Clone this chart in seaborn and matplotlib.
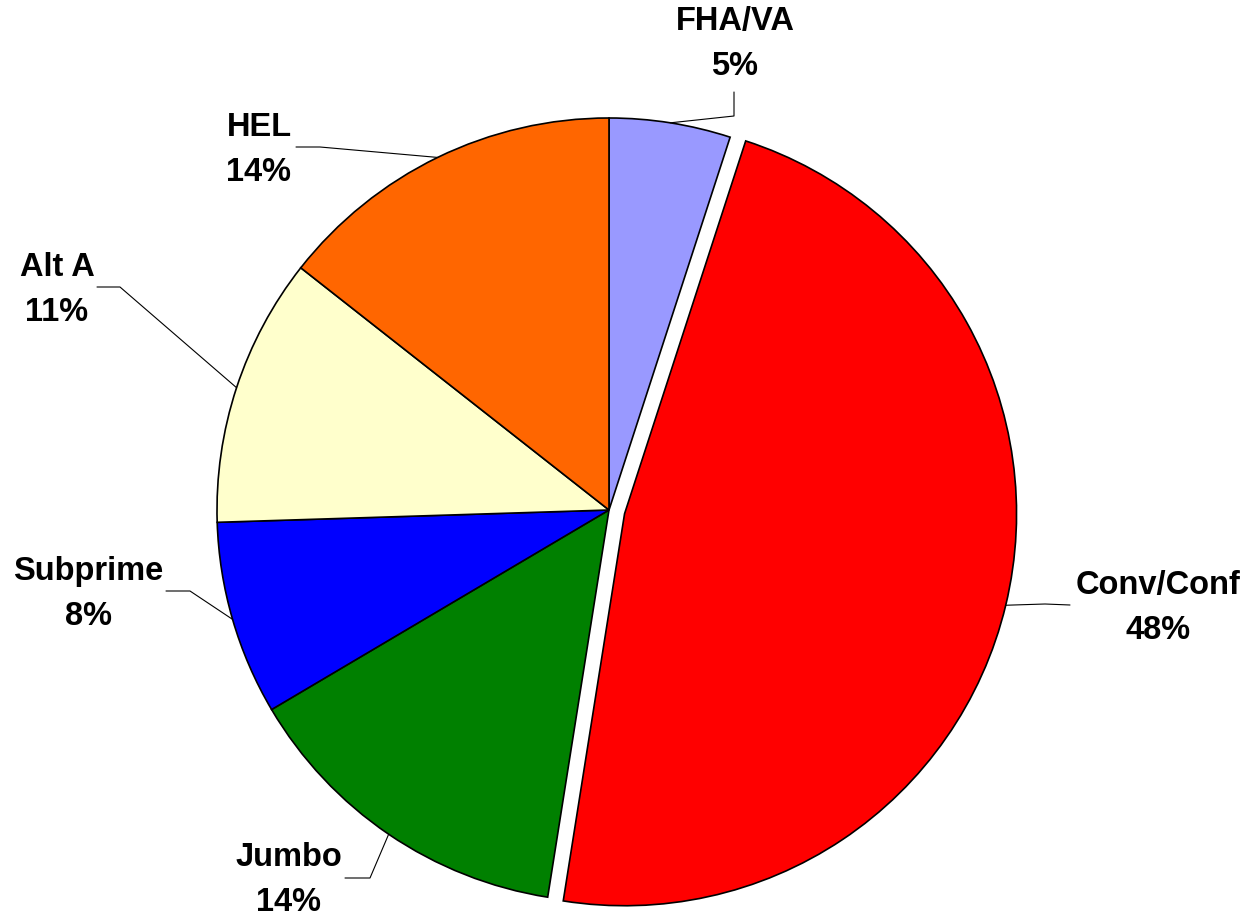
import numpy as np
import seaborn as sns
import matplotlib.pyplot as plt

# chart data (shares in %)
CATEGORIES = ["FHA/VA", "Conv/Conf", "Jumbo", "Subprime", "Alt A", "HEL"]
SHARES = [5.0, 47.5, 14.0, 8.0, 11.1, 14.4]
COLORS = ["#9999FF", "#FF0000", "#008000", "#0000FF", "#FFFFCC", "#FF6600"]
EXPLODE = [0, 16, 0, 0, 0, 0]   # pie() takes explode in data units (pixels here)

# layout, in pixels measured from the top left corner
W, H = 1247, 918
CENTER = (609, 510)
RADIUS = 392
# label block centre, leader start point, leader elbow point
LABEL_POS = {
    "FHA/VA": ((735, 44), (734, 92), (734, 116)),
    "Conv/Conf": ((1158, 608), (1070, 605), (1045, 604)),
    "Jumbo": ((289, 880), (345, 878), (370, 878)),
    "Subprime": ((88, 594), (166, 591), (190, 591)),
    "Alt A": ((57, 290), (97, 287), (120, 287)),
    "HEL": ((259, 150), (296, 147), (320, 147)),
}


def px(x, y):
    """pixel position (from top) -> data coords"""
    return x, H - y


def main():
    sns.set_theme(style="white")
    plt.rcParams["font.family"] = ["Liberation Sans", "DejaVu Sans"]

    fig = plt.figure(figsize=(W / 100, H / 100), dpi=100)
    ax = fig.add_axes([0, 0, 1, 1])

    wedges, _ = ax.pie(SHARES, colors=COLORS, explode=EXPLODE, startangle=90,
                       counterclock=False, radius=RADIUS, center=px(*CENTER),
                       wedgeprops=dict(edgecolor="black", linewidth=1.2))

    for wedge, cat, share in zip(wedges, CATEGORIES, SHARES):
        mid = np.deg2rad((wedge.theta1 + wedge.theta2) / 2)
        cx, cy = wedge.center
        anchor = (cx + RADIUS * np.cos(mid), cy + RADIUS * np.sin(mid))
        (tx, ty), start, elbow = LABEL_POS[cat]
        xs = [px(*start)[0], px(*elbow)[0], anchor[0]]
        ys = [px(*start)[1], px(*elbow)[1], anchor[1]]
        ax.plot(xs, ys, color="black", linewidth=0.8)
        ax.text(*px(tx, ty), f"{cat}\n{share:.0f}%", ha="center", va="center",
                fontsize=23.5, fontweight="bold", linespacing=1.6, color="black")

    # pie() resets the limits, so set the pixel frame afterwards
    ax.set_xlim(0, W)
    ax.set_ylim(0, H)
    ax.set_aspect("equal")
    ax.axis("off")

    fig.savefig("out.png", dpi=100, facecolor="white")


if __name__ == "__main__":
    main()
